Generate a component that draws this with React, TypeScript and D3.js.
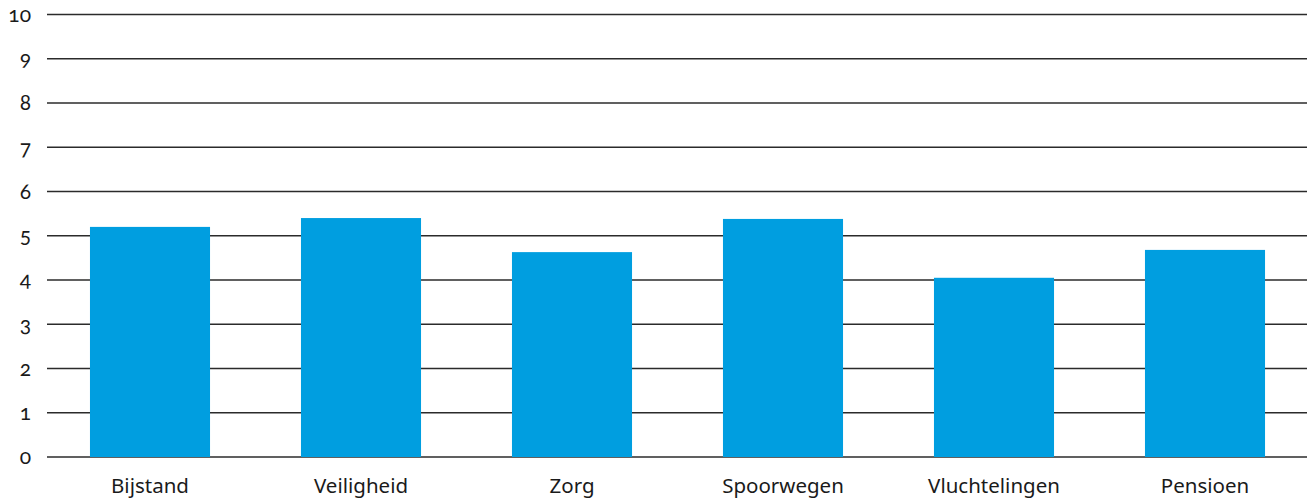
import React from "react";
import * as d3 from "d3";

const categories = ["Bijstand", "Veiligheid", "Zorg", "Spoorwegen", "Vluchtelingen", "Pensioen"];
const values = [5.2, 5.4, 4.63, 5.38, 4.05, 4.68];
const yTicks = [0, 1, 2, 3, 4, 5, 6, 7, 8, 9, 10];

const W = 1311;
const H = 502;

export default function App() {
  const x = d3.scaleBand<string>().domain(categories).range([44.5, 1310.5]).paddingInner(0.431).paddingOuter(0.2155);
  const y = d3.scaleLinear().domain([0, 10]).range([457, 14.5]);
  const gridX0 = 47;
  const gridX1 = 1307;
  return (
    <div style={{ position: "absolute", left: 0, top: 0 }}>
      <svg width={W} height={H} style={{ display: "block" }}>
        <g>
          {yTicks.map((t) => (
            <g key={t}>
              <line x1={gridX0} x2={gridX1} y1={y(t)} y2={y(t)} stroke="#2b2b2b" strokeWidth={1.3} />
              <text
                x={31}
                y={y(t)}
                dy="0.35em"
                textAnchor="end"
                fontFamily="Lato, 'Noto Sans', sans-serif"
                fontSize={21}
                fill="#1a1a1a"
                style={{ fontVariantNumeric: "oldstyle-nums" }}
              >
                {t}
              </text>
            </g>
          ))}
        </g>
        <g>
          {categories.map((c, i) => (
            <rect key={c} x={x(c)} width={x.bandwidth()} y={y(values[i])} height={y(0) - y(values[i])} fill="#009ee0" />
          ))}
        </g>
        <g>
          {categories.map((c) => (
            <text
              key={c}
              x={(x(c) as number) + x.bandwidth() / 2}
              y={493}
              textAnchor="middle"
              fontFamily="'Noto Sans', sans-serif"
              fontSize={20.5}
              fill="#1a1a1a"
            >
              {c}
            </text>
          ))}
        </g>
      </svg>
    </div>
  );
}
